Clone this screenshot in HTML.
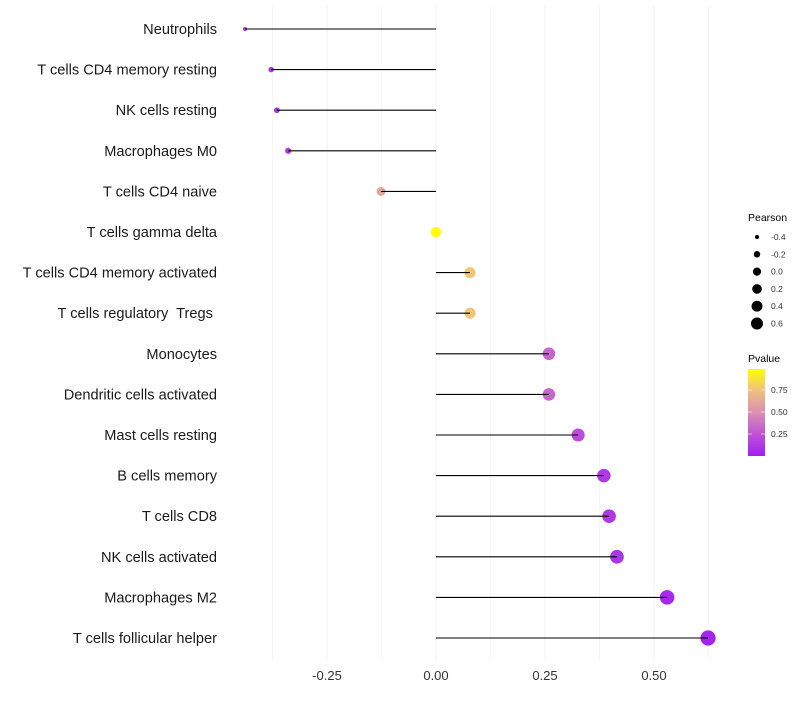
<!DOCTYPE html>
<html><head><meta charset="utf-8"><style>
body{margin:0;background:#fff;font-family:"Liberation Sans",sans-serif}
svg text{font-family:"Liberation Sans",sans-serif;white-space:pre}
</style></head><body>
<svg id="c" width="800" height="700">
<defs><linearGradient id="pg" x1="0" y1="1" x2="0" y2="0">
<stop offset="0" stop-color="#a020f0"/><stop offset="0.25" stop-color="#bf52d6"/><stop offset="0.5" stop-color="#d98fb0"/><stop offset="0.75" stop-color="#f0c080"/><stop offset="1" stop-color="#ffff00"/></linearGradient></defs>
</svg>
<script>
const cells=["Neutrophils","T cells CD4 memory resting","NK cells resting","Macrophages M0","T cells CD4 naive","T cells gamma delta","T cells CD4 memory activated","T cells regulatory  Tregs ","Monocytes","Dendritic cells activated","Mast cells resting","B cells memory","T cells CD8","NK cells activated","Macrophages M2","T cells follicular helper"];
const pearson=[-0.438,-0.378,-0.365,-0.339,-0.126,0,0.078,0.078,0.259,0.259,0.326,0.385,0.397,0.415,0.530,0.624];
const pvalue=[0.15,0.1,0.1,0.12,0.62,1.0,0.77,0.77,0.33,0.33,0.22,0.13,0.12,0.1,0.04,0.02];
const xTicks=[-0.25,0,0.25,0.5];
const xTickLabels=["-0.25","0.00","0.25","0.50"];
const sizeLegend=[-0.4,-0.2,0.0,0.2,0.4,0.6];
const sizeLegendLabels=["-0.4","-0.2","0.0","0.2","0.4","0.6"];
const pTicks=[0.25,0.5,0.75];
const pTickLabels=["0.25","0.50","0.75"];
const svg=document.getElementById('c');const NS="http://www.w3.org/2000/svg";
function mk(t,a,p){const e=document.createElementNS(NS,t);for(const k in a)e.setAttribute(k,a[k]);(p||svg).appendChild(e);return e;}
const X=v=>436+v*436;
const Y=i=>29+i*40.6;
const R=v=>Math.sqrt(Math.max(1,4.5+50*(v+0.44)));
const cs=[[0,[160,32,240]],[0.25,[191,82,214]],[0.5,[217,143,176]],[0.75,[240,192,128]],[1,[255,255,0]]];
function col(p){for(let i=1;i<cs.length;i++){if(p<=cs[i][0]){const a=cs[i-1],b=cs[i];const t=(p-a[0])/(b[0]-a[0]);const c=a[1].map((v,j)=>Math.round(v+(b[1][j]-v)*t));return `rgb(${c})`;}}return 'rgb(255,255,0)';}
for(let v=-0.375;v<=0.63;v+=0.125){const g=mk('line',{x1:X(v),x2:X(v),y1:5,y2:660,stroke:'#f2f2f2','stroke-width':Math.abs((v*4)%1)<1e-6?1:0.7});

}
xTicks.forEach((v,i)=>{const t=mk('text',{x:X(v),y:680,'text-anchor':'middle','font-size':13,fill:'#333'});t.textContent=xTickLabels[i];

});
cells.forEach((c,i)=>{
const t=mk('text',{x:217,y:Y(i)+5,'text-anchor':'end','font-size':14.6,fill:'#1a1a1a'});t.textContent=c;


const d=mk('circle',{cx:X(pearson[i]),cy:Y(i),r:R(pearson[i]),fill:col(pvalue[i])});


const l=mk('line',{x1:X(0),x2:X(pearson[i]),y1:Y(i),y2:Y(i),stroke:'#000','stroke-width':1.1});


});
const lt=mk('text',{x:748,y:221,'font-size':10.5,fill:'#000'});lt.textContent="Pearson";


sizeLegend.forEach((v,i)=>{const y=237+i*17.3;
const d=mk('circle',{cx:757,cy:y,r:R(v)*0.8,fill:'#000'});


const t=mk('text',{x:771,y:y+3,'font-size':8.5,fill:'#333'});t.textContent=sizeLegendLabels[i];

});
const pt=mk('text',{x:748,y:362,'font-size':10.5,fill:'#000'});pt.textContent="Pvalue";


const bar=mk('rect',{x:748,y:369,width:17,height:87,fill:'url(#pg)'});


const PY=p=>456-p*88;
pTicks.forEach((p,i)=>{mk('line',{x1:748,x2:752,y1:PY(p),y2:PY(p),stroke:'#fff','stroke-width':0.6});mk('line',{x1:761,x2:765,y1:PY(p),y2:PY(p),stroke:'#fff','stroke-width':0.6});
const t=mk('text',{x:771,y:PY(p)+3,'font-size':8.5,fill:'#333'});t.textContent=pTickLabels[i];

});
</script>
</body></html>
